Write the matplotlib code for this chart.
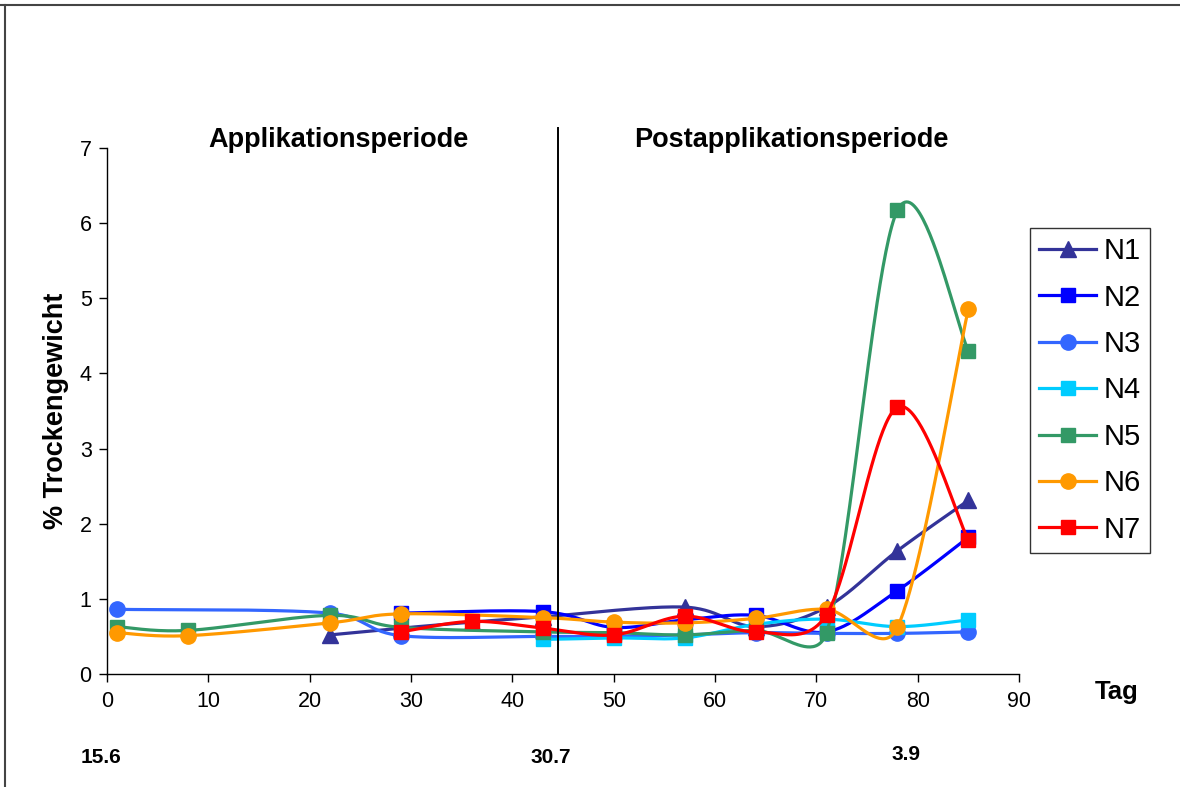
import numpy as np
import matplotlib
matplotlib.use("Agg")
import matplotlib.pyplot as plt
from matplotlib.lines import Line2D

plt.rcParams['font.family'] = ['Liberation Sans', 'DejaVu Sans']

# ---- data ----
days = [1, 8, 22, 29, 36, 43, 50, 57, 64, 71, 78, 85]
nan = np.nan
N1 = [nan, nan, 0.52, 0.61, 0.69, 0.76, nan, 0.89, 0.63, 0.89, 1.64, 2.31]
N2 = [nan, nan, nan, 0.81, nan, 0.83, 0.62, 0.72, 0.78, 0.56, 1.11, 1.82]
N3 = [0.86, nan, 0.81, 0.51, nan, 0.50, 0.50, 0.52, 0.55, 0.54, 0.54, 0.56]
N4 = [nan, nan, nan, nan, nan, 0.46, 0.48, 0.48, 0.66, 0.73, 0.63, 0.72]
N5 = [0.63, 0.58, 0.78, 0.62, nan, 0.56, 0.55, 0.52, 0.58, 0.55, 6.17, 4.30]
N6 = [0.55, 0.51, 0.68, 0.80, nan, 0.75, 0.69, 0.68, 0.74, 0.86, 0.62, 4.86]
N7 = [nan, nan, nan, 0.56, 0.70, 0.61, 0.52, 0.77, 0.56, 0.79, 3.55, 1.78]

series_names = ['N1', 'N2', 'N3', 'N4', 'N5', 'N6', 'N7']
series_values = [N1, N2, N3, N4, N5, N6, N7]
colors = ['#333399', '#0000FF', '#3366FF', '#00CCFF', '#339966', '#FF9900', '#FF0000']
markers = ['^', 's', 'o', 's', 's', 'o', 's']
msizes = [11, 10, 11, 10, 10, 11, 10]

x_ticks = list(range(0, 100, 10))
y_ticks = list(range(0, 8))
period_labels = ['Applikationsperiode', 'Postapplikationsperiode']
date_labels = ['15.6', '30.7', '3.9']
boundary_day = 44.5


def excel_smooth(P, n=50):
    """Excel-like smoothed line (Bezier, tension 1/6, handles capped at half segment)."""
    m = len(P)
    if m < 2:
        return P
    out = []
    for i in range(m - 1):
        p0 = P[i - 1] if i > 0 else P[i]
        p1 = P[i]
        p2 = P[i + 1]
        p3 = P[i + 2] if i + 2 < m else P[i + 1]
        d12 = np.linalg.norm(p2 - p1)
        d02 = np.linalg.norm(p2 - p0)
        d13 = np.linalg.norm(p3 - p1)
        f0 = 1 / 6 if d02 / 6 < d12 / 2 else (d12 / 2) / d02 if d02 > 0 else 0
        f1 = 1 / 6 if d13 / 6 < d12 / 2 else (d12 / 2) / d13 if d13 > 0 else 0
        c1 = p1 + (p2 - p0) * f0
        c2 = p2 - (p3 - p1) * f1
        t = np.linspace(0, 1, n)[:, None]
        seg = ((1 - t) ** 3) * p1 + 3 * ((1 - t) ** 2) * t * c1 + 3 * (1 - t) * t ** 2 * c2 + t ** 3 * p2
        if i > 0:
            seg = seg[1:]
        out.append(seg)
    return np.vstack(out)


fig = plt.figure(figsize=(11.8, 7.87), dpi=100)
ax = fig.add_axes([0.0907, 0.1436, 0.8636 - 0.0907, 0.812 - 0.1436])
ax.set_xlim(0, 90)
ax.set_ylim(0, 7)

for k, (name, vals) in enumerate(zip(series_names, series_values)):
    v = np.asarray(vals, float)
    d = np.asarray(days, float)
    ok = ~np.isnan(v)
    pts = np.column_stack([d[ok], v[ok]])
    disp = ax.transData.transform(pts)
    curve = ax.transData.inverted().transform(excel_smooth(disp))
    ax.plot(curve[:, 0], curve[:, 1], color=colors[k], lw=2.3, zorder=3 + 2 * k,
            solid_capstyle='round')
    ax.plot(d[ok], v[ok], linestyle='none', marker=markers[k], ms=msizes[k],
            color=colors[k], mec=colors[k], zorder=4 + 2 * k, clip_on=False)

ax.set_xticks(x_ticks)
ax.set_yticks(y_ticks)
ax.tick_params(axis='both', direction='out', length=6, width=1, labelsize=15.5, color='black')
ax.tick_params(axis='x', pad=6)
ax.tick_params(axis='y', pad=5)
for s in ['top', 'right']:
    ax.spines[s].set_visible(False)
for s in ['left', 'bottom']:
    ax.spines[s].set_linewidth(1)
    ax.spines[s].set_color('black')

ax.set_ylabel('% Trockengewicht', fontsize=19.5, fontweight='bold', labelpad=8)

# boundary line between periods
ax.plot([boundary_day, boundary_day], [0, 7.27], color='black', lw=1.4, clip_on=False, zorder=30)

ax.text(22.8, 7.1, period_labels[0], fontsize=19.5, fontweight='bold', ha='center', va='center')
ax.text(67.5, 7.1, period_labels[1], fontsize=19.5, fontweight='bold', ha='center', va='center')

fig.text(0.9466, 0.1207, 'Tag', fontsize=18.5, fontweight='bold', ha='center', va='center')
fig.text(0.0856, 0.0369, date_labels[0], fontsize=15, fontweight='bold', ha='center', va='center')
fig.text(0.467, 0.0369, date_labels[1], fontsize=15, fontweight='bold', ha='center', va='center')
fig.text(0.768, 0.0407, date_labels[2], fontsize=15, fontweight='bold', ha='center', va='center')

handles = [Line2D([0], [0], color=colors[k], lw=2.3, marker=markers[k], ms=msizes[k],
                  mec=colors[k]) for k in range(len(series_names))]
leg = fig.legend(handles, series_names, loc='upper left', bbox_to_anchor=(0.8729, 0.7103),
                 fontsize=21, frameon=True, fancybox=False, edgecolor='black',
                 handlelength=1.95, labelspacing=0.63, borderpad=0.32, handletextpad=0.25,
                 borderaxespad=0)
leg.get_frame().set_linewidth(1)

# figure border (top and left)
fig.add_artist(Line2D([0.0, 1.0], [1 - 5 / 787, 1 - 5 / 787], transform=fig.transFigure,
                      color='#444444', lw=1.5))
fig.add_artist(Line2D([5 / 1180, 5 / 1180], [0.0, 1 - 5 / 787], transform=fig.transFigure,
                      color='#444444', lw=1.5))

fig.savefig('out.png', dpi=100)
